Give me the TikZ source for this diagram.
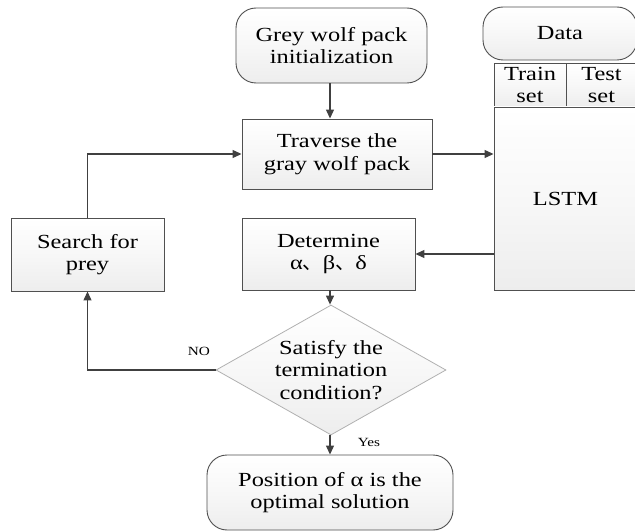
\documentclass[tikz,border=0pt]{standalone}
\usepackage{fontspec}
\setmainfont{Liberation Serif}[FakeStretch=1.22]
\newfontfamily\cjk{Noto Sans CJK SC}
\usetikzlibrary{shapes.geometric,arrows.meta,positioning,calc}
\definecolor{edgecol}{HTML}{505050}
\definecolor{arrcol}{HTML}{404040}
\definecolor{diacol}{HTML}{B0B0B0}
\tikzset{
  boxfill/.style={top color=white, bottom color=gray!14, middle color=gray!6},
  procbox/.style={draw=edgecol, line width=0.9pt, boxfill, rectangle, align=center,
    font=\fontsize{20}{22.5}\selectfont, inner sep=0pt},
  termbox/.style={procbox, rounded corners=20pt},
  decbox/.style={draw=diacol, line width=0.8pt, boxfill, diamond, inner sep=0pt},
  dectext/.style={align=center, font=\fontsize{20}{22.5}\selectfont, inner sep=0pt},
  arr/.style={draw=arrcol, line width=1.2pt, -{Triangle[length=9pt,width=8pt]}},
  lbl/.style={font=\fontsize{12.5}{14}\selectfont, inner sep=0pt}
}
\begin{document}
\begin{tikzpicture}[x=1pt,y=-1pt]
\useasboundingbox (0,0) rectangle (635,532);
% nodes
\node[termbox, minimum width=191pt, minimum height=75pt] (init) at (331.5,45.5) {Grey wolf pack\\initialization};
\node[procbox, minimum width=190pt, minimum height=70pt] (trav) at (337,154) {Traverse the\\gray wolf pack};
\node[termbox, minimum width=154pt, minimum height=53pt] (data) at (560,33.5) {Data};
\node[procbox, minimum width=72pt, minimum height=44pt] (train) at (530,85) {Train\\set};
\node[procbox, minimum width=71pt, minimum height=44pt] (test) at (601.5,85) {Test\\set};
\node[procbox, minimum width=143pt, minimum height=183pt] (lstm) at (565.5,198.5) {LSTM};
\node[procbox, minimum width=173pt, minimum height=72pt] (det) at (328.5,254) {Determine\\α{\cjk 、}β{\cjk 、}δ};
\node[procbox, minimum width=153pt, minimum height=73pt] (search) at (87.5,254.5) {Search for\\prey};
\node[decbox, minimum width=230pt, minimum height=130pt] (dia) at (331,370) {};
\node[dectext] (diatext) at (dia.center) {Satisfy the\\termination\\condition?};
\node[termbox, minimum width=246pt, minimum height=75pt] (final) at (330,492.5) {Position of α is the\\optimal solution};
% connectors
\draw[arr] (init.south -| 330,0) -- (330,0 |- trav.north);
\draw[arr] (trav.east) -- (trav.east -| lstm.west);
\draw[arr] (lstm.west |- det.east) -- (det.east);
\draw[arr] (det.south -| 330,0) -- (dia.north -| 330,0);
\draw[arr] (dia.west) -| (search.south);
\draw[arr] (search.north) |- (trav.west);
\draw[arr] (dia.south -| 330,0) -- (final.north -| 330,0);
% labels
\node[lbl] (no) at (199,351) {NO};
\node[lbl] (yes) at (369,442) {Yes};
\end{tikzpicture}
\end{document}
